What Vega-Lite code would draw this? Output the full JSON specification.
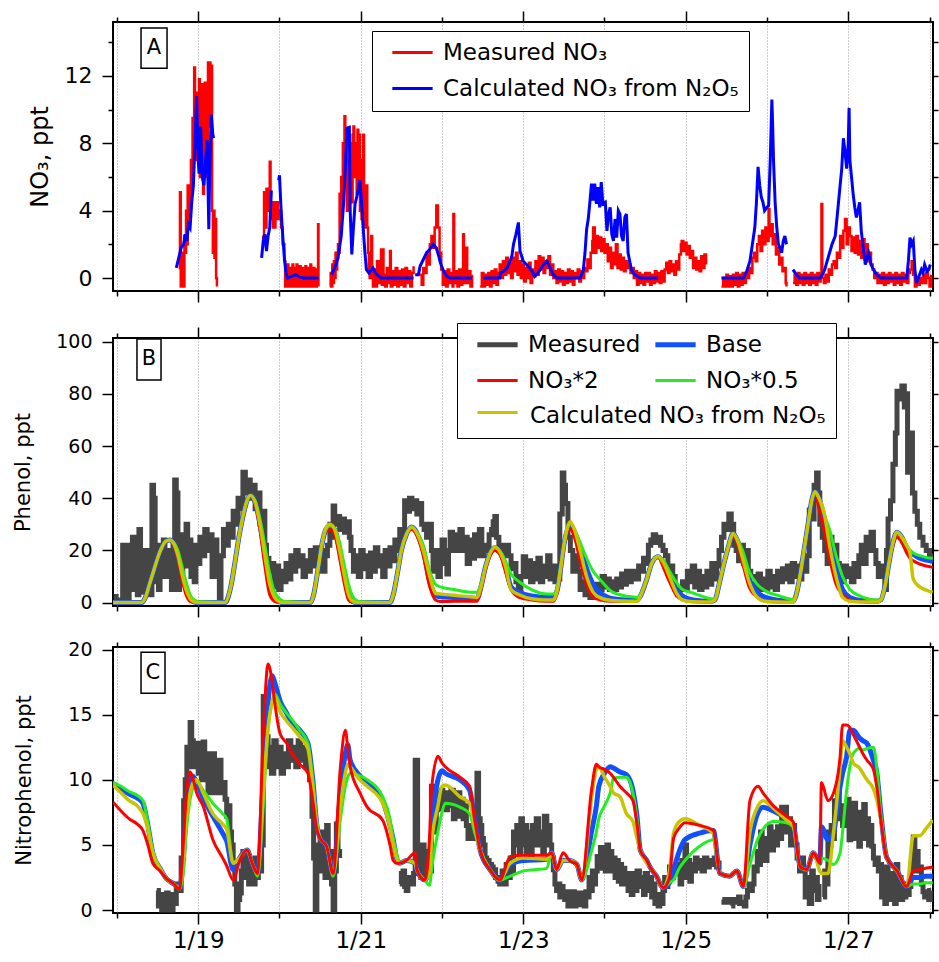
{
"$schema": "https://vega.github.io/schema/vega-lite/v6.json",
"padding": {"left": 11, "top": 9, "right": 1, "bottom": 5},
"spacing": 15,
"config": {
  "font": "DejaVu Sans",
  "view": {"stroke": "black", "strokeWidth": 2},
  "axis": {"labelColor": "black", "titleColor": "black", "tickColor": "black", "tickWidth": 1.5, "titleFontWeight": "normal", "domain": false, "grid": false}
},
"resolve": {"scale": {"color": "independent", "stroke": "independent"}, "legend": {"color": "independent", "stroke": "independent"}},
"datasets": {
"aRed": [
{"t":18.77,"v":0.5},{"t":18.775,"v":5.1},{"t":18.785,"v":-0.5},{"t":18.80,"v":-0.5},{"t":18.81,"v":1.5},{"t":18.82,"v":-0.5},{"t":18.83,"v":2.5},{"t":18.84,"v":1.5},{"t":18.85,"v":4},{"t":18.86,"v":2},{"t":18.87,"v":5.5},{"t":18.88,"v":3},{"t":18.89,"v":5.5},{"t":18.90,"v":4.5},{"t":18.91,"v":7},{"t":18.92,"v":5.5},{"t":18.93,"v":9.5},{"t":18.94,"v":7},{"t":18.95,"v":12.5},{"t":18.96,"v":8},{"t":18.97,"v":11},{"t":18.98,"v":7},{"t":18.99,"v":10},{"t":19.00,"v":9},{"t":19.01,"v":11.8},{"t":19.02,"v":6},{"t":19.03,"v":10.5},{"t":19.04,"v":8},{"t":19.05,"v":11.5},{"t":19.06,"v":5},{"t":19.07,"v":8},{"t":19.08,"v":11.6},{"t":19.09,"v":6},{"t":19.10,"v":10},{"t":19.11,"v":7},{"t":19.12,"v":12.8},{"t":19.13,"v":9},{"t":19.14,"v":12.8},{"t":19.15,"v":11},{"t":19.16,"v":12.6},{"t":19.17,"v":4},{"t":19.18,"v":1.5},{"t":19.19,"v":4},{"t":19.20,"v":1.2},{"t":19.21,"v":3.5},{"t":19.22,"v":0},{"t":19.23,"v":-0.5},{"t":19.24,"v":null},
{"t":19.79,"v":2.5},{"t":19.80,"v":2},{"t":19.81,"v":5.1},{"t":19.82,"v":3},{"t":19.84,"v":5.3},{"t":19.85,"v":4},{"t":19.86,"v":5},{"t":19.88,"v":6.9},{"t":19.89,"v":3.5},{"t":19.90,"v":4.5},{"t":19.92,"v":3},{"t":19.95,"v":4.5},{"t":19.98,"v":3.5},{"t":20.00,"v":4},{"t":20.02,"v":3},{"t":20.04,"v":2},{"t":20.06,"v":1},{"t":20.07,"v":-0.5},{"t":20.08,"v":0.5},{"t":20.09,"v":-0.5},{"t":20.10,"v":0.8},{"t":20.11,"v":-0.3},{"t":20.12,"v":0.6},{"t":20.13,"v":-0.5},{"t":20.14,"v":0.3},{"t":20.15,"v":-0.5},{"t":20.16,"v":0.8},{"t":20.17,"v":0},{"t":20.18,"v":-0.5},{"t":20.19,"v":0.6},{"t":20.20,"v":-0.3},{"t":20.21,"v":0.8},{"t":20.22,"v":-0.5},{"t":20.23,"v":0.4},{"t":20.24,"v":-0.5},{"t":20.25,"v":0.7},{"t":20.26,"v":-0.3},{"t":20.27,"v":0.5},{"t":20.28,"v":-0.5},{"t":20.29,"v":0.6},{"t":20.30,"v":0},{"t":20.31,"v":-0.5},{"t":20.32,"v":0.7},{"t":20.33,"v":-0.4},{"t":20.34,"v":0.6},{"t":20.35,"v":-0.5},{"t":20.36,"v":0.5},{"t":20.37,"v":-0.3},{"t":20.38,"v":0.8},{"t":20.39,"v":-0.5},{"t":20.40,"v":0.3},{"t":20.41,"v":-0.5},{"t":20.42,"v":0.6},{"t":20.43,"v":-0.2},{"t":20.44,"v":0.5},{"t":20.45,"v":-0.5},{"t":20.46,"v":0.4},{"t":20.47,"v":-0.4},{"t":20.475,"v":3.2},{"t":20.48,"v":-0.5},{"t":20.485,"v":null},
{"t":20.62,"v":-0.5},{"t":20.63,"v":0.3},{"t":20.64,"v":-0.5},{"t":20.65,"v":0.8},{"t":20.66,"v":-0.3},{"t":20.67,"v":1},{"t":20.68,"v":0},{"t":20.69,"v":1.5},{"t":20.70,"v":0.5},{"t":20.71,"v":1.2},{"t":20.72,"v":2},{"t":20.73,"v":1.5},{"t":20.74,"v":5},{"t":20.75,"v":3},{"t":20.76,"v":6},{"t":20.77,"v":4.5},{"t":20.78,"v":8},{"t":20.79,"v":6.5},{"t":20.80,"v":9.6},{"t":20.81,"v":7},{"t":20.82,"v":8},{"t":20.83,"v":4},{"t":20.84,"v":6},{"t":20.85,"v":5},{"t":20.86,"v":7},{"t":20.87,"v":5.5},{"t":20.88,"v":8},{"t":20.89,"v":4.5},{"t":20.90,"v":8.5},{"t":20.91,"v":9},{"t":20.92,"v":6},{"t":20.94,"v":8},{"t":20.95,"v":5},{"t":20.96,"v":8.8},{"t":20.97,"v":7},{"t":20.98,"v":8.5},{"t":20.99,"v":4},{"t":21.00,"v":6},{"t":21.01,"v":3.5},{"t":21.02,"v":7},{"t":21.03,"v":8.5},{"t":21.04,"v":5},{"t":21.05,"v":3},{"t":21.06,"v":4},{"t":21.07,"v":5.5},{"t":21.08,"v":3},{"t":21.09,"v":1.5},{"t":21.10,"v":0.5},{"t":21.11,"v":0},{"t":21.12,"v":1},{"t":21.13,"v":2.5},{"t":21.14,"v":0.3},{"t":21.15,"v":-0.5},{"t":21.17,"v":0.5},{"t":21.19,"v":-0.5},{"t":21.20,"v":1},{"t":21.22,"v":-0.3},{"t":21.24,"v":0.8},{"t":21.25,"v":1.7},{"t":21.26,"v":-0.4},{"t":21.27,"v":1.7},{"t":21.28,"v":0.2},{"t":21.30,"v":-0.5},{"t":21.32,"v":0.6},{"t":21.34,"v":-0.3},{"t":21.36,"v":1.6},{"t":21.37,"v":-0.5},{"t":21.39,"v":0.4},{"t":21.41,"v":-0.4},{"t":21.43,"v":0.6},{"t":21.45,"v":-0.5},{"t":21.47,"v":0.4},{"t":21.49,"v":-0.4},{"t":21.51,"v":0.5},{"t":21.53,"v":-0.5},{"t":21.55,"v":0.6},{"t":21.57,"v":-0.3},{"t":21.59,"v":0.4},{"t":21.61,"v":-0.5},{"t":21.63,"v":0.3},{"t":21.65,"v":0.7},{"t":21.66,"v":null},
{"t":21.73,"v":0.2},{"t":21.75,"v":-0.4},{"t":21.77,"v":0.6},{"t":21.79,"v":0.3},{"t":21.81,"v":1.5},{"t":21.83,"v":0.8},{"t":21.85,"v":2},{"t":21.87,"v":2.5},{"t":21.89,"v":1.8},{"t":21.91,"v":3},{"t":21.93,"v":4.3},{"t":21.95,"v":3},{"t":21.97,"v":1.5},{"t":21.99,"v":0.5},{"t":22.01,"v":-0.4},{"t":22.03,"v":0.4},{"t":22.05,"v":-0.5},{"t":22.07,"v":0.5},{"t":22.09,"v":-0.3},{"t":22.11,"v":0.3},{"t":22.13,"v":-0.5},{"t":22.14,"v":3.8},{"t":22.15,"v":-0.3},{"t":22.17,"v":0.4},{"t":22.19,"v":-0.5},{"t":22.21,"v":0.5},{"t":22.23,"v":-0.4},{"t":22.25,"v":0.3},{"t":22.26,"v":2.6},{"t":22.27,"v":-0.3},{"t":22.29,"v":0.4},{"t":22.30,"v":1.8},{"t":22.31,"v":-0.3},{"t":22.33,"v":0.4},{"t":22.35,"v":-0.5},{"t":22.37,"v":0.2},{"t":22.38,"v":null},
{"t":22.47,"v":-0.5},{"t":22.49,"v":0.3},{"t":22.51,"v":-0.5},{"t":22.53,"v":0.2},{"t":22.55,"v":-0.4},{"t":22.57,"v":0.3},{"t":22.59,"v":-0.5},{"t":22.61,"v":0.4},{"t":22.63,"v":-0.3},{"t":22.65,"v":0.5},{"t":22.67,"v":-0.4},{"t":22.69,"v":0.3},{"t":22.71,"v":0.8},{"t":22.73,"v":0},{"t":22.75,"v":1},{"t":22.77,"v":0.2},{"t":22.79,"v":1.2},{"t":22.81,"v":0.3},{"t":22.83,"v":0.9},{"t":22.85,"v":0},{"t":22.87,"v":1.2},{"t":22.89,"v":0.4},{"t":22.91,"v":1.5},{"t":22.93,"v":0.2},{"t":22.95,"v":1},{"t":22.97,"v":0},{"t":22.99,"v":0.8},{"t":23.01,"v":-0.2},{"t":23.03,"v":0.6},{"t":23.05,"v":0},{"t":23.07,"v":0.9},{"t":23.09,"v":-0.3},{"t":23.11,"v":0.5},{"t":23.13,"v":0.1},{"t":23.15,"v":1.0},{"t":23.17,"v":0.2},{"t":23.19,"v":1.3},{"t":23.21,"v":0.5},{"t":23.23,"v":1.2},{"t":23.25,"v":0.3},{"t":23.27,"v":1.0},{"t":23.29,"v":0.6},{"t":23.31,"v":1.3},{"t":23.33,"v":0.2},{"t":23.35,"v":0.8},{"t":23.37,"v":0},{"t":23.39,"v":0.4},{"t":23.41,"v":-0.3},{"t":23.43,"v":0.5},{"t":23.45,"v":-0.2},{"t":23.47,"v":0.4},{"t":23.49,"v":-0.4},{"t":23.51,"v":0.3},{"t":23.53,"v":-0.3},{"t":23.55,"v":0.5},{"t":23.57,"v":-0.2},{"t":23.59,"v":0.4},{"t":23.61,"v":-0.4},{"t":23.63,"v":0.3},{"t":23.65,"v":0},{"t":23.67,"v":0.5},{"t":23.69,"v":-0.2},{"t":23.71,"v":0.4},{"t":23.73,"v":0},{"t":23.75,"v":0.6},{"t":23.77,"v":0.4},{"t":23.79,"v":1.1},{"t":23.81,"v":0.6},{"t":23.83,"v":1.5},{"t":23.85,"v":2.2},{"t":23.86,"v":3.0},{"t":23.88,"v":1.5},{"t":23.90,"v":2.5},{"t":23.92,"v":1.8},{"t":23.94,"v":2.4},{"t":23.96,"v":1.6},{"t":23.98,"v":2.3},{"t":24.00,"v":1.5},{"t":24.02,"v":2.0},{"t":24.04,"v":1.0},{"t":24.06,"v":1.8},{"t":24.08,"v":0.6},{"t":24.10,"v":1.5},{"t":24.12,"v":0.8},{"t":24.14,"v":2.0},{"t":24.16,"v":0.6},{"t":24.18,"v":1.4},{"t":24.20,"v":0.5},{"t":24.22,"v":1.2},{"t":24.24,"v":0.4},{"t":24.26,"v":1.0},{"t":24.28,"v":0.6},{"t":24.30,"v":0.8},{"t":24.32,"v":0.3},{"t":24.34,"v":0.6},{"t":24.36,"v":0},{"t":24.38,"v":0.4},{"t":24.40,"v":-0.4},{"t":24.42,"v":0.3},{"t":24.44,"v":-0.3},{"t":24.46,"v":0.2},{"t":24.48,"v":-0.4},{"t":24.50,"v":0.3},{"t":24.52,"v":-0.2},{"t":24.54,"v":0.3},{"t":24.56,"v":-0.4},{"t":24.58,"v":0.2},{"t":24.60,"v":-0.3},{"t":24.62,"v":0.4},{"t":24.64,"v":-0.2},{"t":24.66,"v":0.3},{"t":24.68,"v":-0.3},{"t":24.70,"v":0.4},{"t":24.72,"v":-0.2},{"t":24.74,"v":0.5},{"t":24.76,"v":0.9},{"t":24.78,"v":0.3},{"t":24.80,"v":1.0},{"t":24.82,"v":0.4},{"t":24.84,"v":0.8},{"t":24.86,"v":0.2},{"t":24.88,"v":1.0},{"t":24.90,"v":0.5},{"t":24.92,"v":1.4},{"t":24.94,"v":2.0},{"t":24.95,"v":2.2},{"t":24.97,"v":1.6},{"t":24.99,"v":2.1},{"t":25.01,"v":1.4},{"t":25.03,"v":1.9},{"t":25.05,"v":1.2},{"t":25.07,"v":1.6},{"t":25.09,"v":0.6},{"t":25.11,"v":1.2},{"t":25.13,"v":0.5},{"t":25.15,"v":1.0},{"t":25.17,"v":0.4},{"t":25.19,"v":1.3},{"t":25.21,"v":0.6},{"t":25.23,"v":1.4},{"t":25.25,"v":0.8},{"t":25.27,"v":null},
{"t":25.44,"v":-0.5},{"t":25.46,"v":0},{"t":25.48,"v":-0.5},{"t":25.50,"v":0.2},{"t":25.52,"v":-0.5},{"t":25.54,"v":0.1},{"t":25.56,"v":-0.5},{"t":25.58,"v":0.2},{"t":25.60,"v":-0.4},{"t":25.62,"v":0.3},{"t":25.64,"v":-0.5},{"t":25.66,"v":0.2},{"t":25.68,"v":-0.4},{"t":25.70,"v":0.3},{"t":25.72,"v":-0.3},{"t":25.74,"v":0.3},{"t":25.76,"v":0},{"t":25.78,"v":0.6},{"t":25.80,"v":0.3},{"t":25.82,"v":1.2},{"t":25.84,"v":1.5},{"t":25.86,"v":1.0},{"t":25.88,"v":2.0},{"t":25.90,"v":2.5},{"t":25.92,"v":1.6},{"t":25.94,"v":2.8},{"t":25.96,"v":2.0},{"t":25.98,"v":3.0},{"t":26.00,"v":2.2},{"t":26.02,"v":4.1},{"t":26.03,"v":2.5},{"t":26.05,"v":3.2},{"t":26.07,"v":2.0},{"t":26.09,"v":2.6},{"t":26.11,"v":1.4},{"t":26.13,"v":1.8},{"t":26.15,"v":0.8},{"t":26.17,"v":1.2},{"t":26.19,"v":0.4},{"t":26.21,"v":0.6},{"t":26.23,"v":-0.3},{"t":26.24,"v":-0.5},{"t":26.25,"v":null},
{"t":26.32,"v":-0.3},{"t":26.34,"v":0.2},{"t":26.36,"v":-0.4},{"t":26.38,"v":0.3},{"t":26.40,"v":-0.3},{"t":26.42,"v":0.2},{"t":26.44,"v":-0.4},{"t":26.46,"v":0.3},{"t":26.48,"v":-0.3},{"t":26.50,"v":0.2},{"t":26.52,"v":-0.4},{"t":26.54,"v":0.3},{"t":26.56,"v":-0.3},{"t":26.58,"v":0.2},{"t":26.60,"v":-0.4},{"t":26.62,"v":0.3},{"t":26.64,"v":-0.2},{"t":26.66,"v":0},{"t":26.67,"v":4.4},{"t":26.68,"v":0},{"t":26.70,"v":-0.3},{"t":26.72,"v":0.2},{"t":26.74,"v":-0.2},{"t":26.76,"v":0.5},{"t":26.78,"v":0.2},{"t":26.80,"v":0.8},{"t":26.82,"v":1.0},{"t":26.84,"v":0.6},{"t":26.86,"v":1.5},{"t":26.88,"v":1.2},{"t":26.90,"v":2.5},{"t":26.92,"v":1.8},{"t":26.94,"v":2.8},{"t":26.96,"v":3.5},{"t":26.98,"v":2.0},{"t":27.00,"v":3.0},{"t":27.02,"v":2.5},{"t":27.04,"v":1.6},{"t":27.06,"v":2.4},{"t":27.08,"v":1.5},{"t":27.10,"v":2.5},{"t":27.12,"v":1.4},{"t":27.14,"v":2.2},{"t":27.16,"v":1.2},{"t":27.18,"v":2.3},{"t":27.20,"v":1.4},{"t":27.22,"v":2.0},{"t":27.24,"v":1.0},{"t":27.26,"v":1.5},{"t":27.28,"v":0.8},{"t":27.30,"v":0.5},{"t":27.32,"v":0},{"t":27.34,"v":0.3},{"t":27.36,"v":-0.3},{"t":27.38,"v":0.2},{"t":27.40,"v":-0.3},{"t":27.42,"v":0.3},{"t":27.44,"v":-0.4},{"t":27.46,"v":0.2},{"t":27.48,"v":-0.3},{"t":27.50,"v":0.3},{"t":27.52,"v":-0.2},{"t":27.54,"v":0.2},{"t":27.56,"v":-0.4},{"t":27.58,"v":0.3},{"t":27.60,"v":-0.3},{"t":27.62,"v":0.2},{"t":27.64,"v":-0.4},{"t":27.66,"v":0.3},{"t":27.68,"v":-0.2},{"t":27.70,"v":0.2},{"t":27.72,"v":-0.3},{"t":27.74,"v":0.3},{"t":27.76,"v":0.5},{"t":27.78,"v":1.0},{"t":27.80,"v":0.2},{"t":27.82,"v":-0.5},{"t":27.84,"v":0},{"t":27.86,"v":-0.4},{"t":27.88,"v":0},{"t":27.90,"v":-0.3},{"t":27.92,"v":0.2},{"t":27.94,"v":-0.3},{"t":27.96,"v":0.3},{"t":27.98,"v":0},{"t":28.00,"v":-0.5},{"t":28.02,"v":0.2}
],
"aBlue": [
{"t":18.73,"v":0.6},{"t":18.76,"v":1.2},{"t":18.79,"v":1.8},{"t":18.82,"v":2.0},{"t":18.84,"v":2.6},{"t":18.86,"v":2.2},{"t":18.88,"v":3.2},{"t":18.90,"v":3.0},{"t":18.92,"v":4.5},{"t":18.94,"v":5.5},{"t":18.96,"v":8},{"t":18.98,"v":10.8},{"t":19.00,"v":7},{"t":19.01,"v":6.2},{"t":19.03,"v":9},{"t":19.05,"v":6},{"t":19.07,"v":5.5},{"t":19.09,"v":7},{"t":19.11,"v":8.2},{"t":19.13,"v":2.9},{"t":19.14,"v":6},{"t":19.16,"v":9.7},{"t":19.18,"v":8.5},{"t":19.19,"v":8.3},{"t":19.20,"v":null},
{"t":19.78,"v":1.2},{"t":19.80,"v":2.2},{"t":19.82,"v":2.6},{"t":19.84,"v":1.6},{"t":19.86,"v":2.5},{"t":19.88,"v":3.0},{"t":19.90,"v":5.2},{"t":19.91,"v":null},{"t":19.99,"v":5.8},{"t":20.00,"v":6.1},{"t":20.02,"v":4.0},{"t":20.04,"v":2.5},{"t":20.06,"v":1.2},{"t":20.08,"v":0.3},{"t":20.10,"v":0},{"t":20.15,"v":0.1},{"t":20.20,"v":0.2},{"t":20.25,"v":0.05},{"t":20.30,"v":0},{"t":20.48,"v":0},{"t":20.49,"v":null},
{"t":20.64,"v":0.2},{"t":20.68,"v":0.6},{"t":20.72,"v":1.2},{"t":20.76,"v":2.5},{"t":20.79,"v":4.5},{"t":20.81,"v":6.5},{"t":20.83,"v":8.9},{"t":20.86,"v":8.95},{"t":20.87,"v":4},{"t":20.89,"v":1.4},{"t":20.91,"v":3},{"t":20.93,"v":4.4},{"t":20.96,"v":5},{"t":20.99,"v":5.8},{"t":21.01,"v":4.5},{"t":21.03,"v":3},{"t":21.05,"v":1.6},{"t":21.07,"v":0.5},{"t":21.10,"v":0.3},{"t":21.13,"v":0.5},{"t":21.15,"v":0.6},{"t":21.18,"v":0.3},{"t":21.20,"v":0.2},{"t":21.25,"v":0},{"t":21.65,"v":0},{"t":21.66,"v":null},
{"t":21.67,"v":0.2},{"t":21.71,"v":0.2},{"t":21.73,"v":0.7},{"t":21.77,"v":1.1},{"t":21.81,"v":1.5},{"t":21.85,"v":1.7},{"t":21.89,"v":2.0},{"t":21.93,"v":1.8},{"t":21.96,"v":1.3},{"t":21.98,"v":0.9},{"t":22.02,"v":0.4},{"t":22.06,"v":0.1},{"t":22.10,"v":0},{"t":22.37,"v":0},{"t":22.38,"v":null},
{"t":22.51,"v":0},{"t":22.71,"v":0},{"t":22.72,"v":0.3},{"t":22.76,"v":0.4},{"t":22.80,"v":0.6},{"t":22.83,"v":0.9},{"t":22.86,"v":1.3},{"t":22.88,"v":2.0},{"t":22.91,"v":2.6},{"t":22.94,"v":3.3},{"t":22.96,"v":1.6},{"t":23.00,"v":1.0},{"t":23.04,"v":0.8},{"t":23.08,"v":0.6},{"t":23.12,"v":0.3},{"t":23.14,"v":0.1},{"t":23.18,"v":0.3},{"t":23.21,"v":0.5},{"t":23.25,"v":0.8},{"t":23.29,"v":1.0},{"t":23.33,"v":0.6},{"t":23.37,"v":0.2},{"t":23.41,"v":0},{"t":23.70,"v":0},{"t":23.74,"v":0.5},{"t":23.76,"v":1.5},{"t":23.78,"v":2.9},{"t":23.80,"v":3.5},{"t":23.82,"v":4.5},{"t":23.84,"v":5.6},{"t":23.86,"v":4.6},{"t":23.88,"v":5.6},{"t":23.90,"v":4.4},{"t":23.92,"v":5.4},{"t":23.94,"v":4.2},{"t":23.96,"v":5.7},{"t":23.98,"v":4.4},{"t":24.01,"v":4.5},{"t":24.03,"v":2.8},{"t":24.05,"v":3.8},{"t":24.07,"v":4.2},{"t":24.09,"v":2.6},{"t":24.11,"v":2.2},{"t":24.13,"v":3.5},{"t":24.15,"v":2.4},{"t":24.17,"v":4.0},{"t":24.19,"v":3.8},{"t":24.21,"v":2.5},{"t":24.23,"v":2.2},{"t":24.25,"v":3.6},{"t":24.27,"v":3.8},{"t":24.29,"v":1.5},{"t":24.31,"v":1.0},{"t":24.33,"v":0.5},{"t":24.37,"v":0.2},{"t":24.44,"v":0},{"t":24.66,"v":0},{"t":24.67,"v":null},
{"t":25.44,"v":0},{"t":25.71,"v":0},{"t":25.75,"v":0.4},{"t":25.79,"v":1.0},{"t":25.82,"v":2},{"t":25.85,"v":3},{"t":25.87,"v":4.5},{"t":25.89,"v":6.6},{"t":25.91,"v":5.5},{"t":25.93,"v":4.8},{"t":25.95,"v":4.5},{"t":25.97,"v":4.0},{"t":26.00,"v":4.2},{"t":26.02,"v":4.3},{"t":26.04,"v":7},{"t":26.06,"v":10.6},{"t":26.07,"v":9},{"t":26.08,"v":7},{"t":26.10,"v":4.5},{"t":26.12,"v":3},{"t":26.14,"v":2.0},{"t":26.16,"v":1.8},{"t":26.18,"v":1.5},{"t":26.20,"v":2.2},{"t":26.22,"v":2.5},{"t":26.24,"v":2.0},{"t":26.25,"v":null},
{"t":26.32,"v":0.5},{"t":26.36,"v":0.2},{"t":26.40,"v":0},{"t":26.65,"v":0},{"t":26.68,"v":0.2},{"t":26.71,"v":0.5},{"t":26.74,"v":1.0},{"t":26.77,"v":1.5},{"t":26.80,"v":2.0},{"t":26.84,"v":2.5},{"t":26.86,"v":3.5},{"t":26.88,"v":4.5},{"t":26.90,"v":5.5},{"t":26.92,"v":6.5},{"t":26.94,"v":8.3},{"t":26.96,"v":7.5},{"t":26.98,"v":6.5},{"t":27.00,"v":8},{"t":27.01,"v":10.1},{"t":27.02,"v":7},{"t":27.04,"v":6},{"t":27.06,"v":5},{"t":27.08,"v":4.2},{"t":27.10,"v":3.6},{"t":27.12,"v":4.0},{"t":27.14,"v":4.5},{"t":27.16,"v":2.8},{"t":27.18,"v":2.0},{"t":27.21,"v":0.8},{"t":27.23,"v":1.2},{"t":27.25,"v":1.5},{"t":27.28,"v":0.8},{"t":27.31,"v":0.5},{"t":27.35,"v":0.2},{"t":27.40,"v":0},{"t":27.72,"v":0},{"t":27.74,"v":1.0},{"t":27.76,"v":2.4},{"t":27.78,"v":2.0},{"t":27.80,"v":2.2},{"t":27.82,"v":0.5},{"t":27.84,"v":-0.3},{"t":27.87,"v":0.1},{"t":27.90,"v":0.5},{"t":27.92,"v":0.3},{"t":27.94,"v":0.8},{"t":27.97,"v":0.4},{"t":27.99,"v":0.5},{"t":28.01,"v":0.8}
],
"bGray": [
{"t":17.96,"v":2.3},{"t":17.99,"v":0.5},{"t":18.02,"v":1},{"t":18.05,"v":0},{"t":18.07,"v":22},{"t":18.09,"v":3},{"t":18.11,"v":20},{"t":18.13,"v":2},{"t":18.15,"v":22},{"t":18.17,"v":8},{"t":18.19,"v":25},{"t":18.21,"v":5},{"t":18.23,"v":18},{"t":18.25,"v":3},{"t":18.27,"v":28},{"t":18.29,"v":10},{"t":18.31,"v":16},{"t":18.33,"v":4},{"t":18.35,"v":20},{"t":18.37,"v":6},{"t":18.39,"v":14},{"t":18.41,"v":3},{"t":18.43,"v":45},{"t":18.45,"v":40},{"t":18.47,"v":8},{"t":18.49,"v":20},{"t":18.51,"v":5},{"t":18.53,"v":22},{"t":18.55,"v":10},{"t":18.57,"v":24},{"t":18.59,"v":14},{"t":18.61,"v":20},{"t":18.63,"v":10},{"t":18.65,"v":18},{"t":18.67,"v":5},{"t":18.69,"v":22},{"t":18.71,"v":47},{"t":18.73,"v":42},{"t":18.75,"v":5},{"t":18.77,"v":20},{"t":18.79,"v":12},{"t":18.81,"v":26},{"t":18.83,"v":16},{"t":18.85,"v":30},{"t":18.87,"v":14},{"t":18.89,"v":24},{"t":18.91,"v":10},{"t":18.93,"v":20},{"t":18.95,"v":8},{"t":18.97,"v":22},{"t":18.99,"v":15},{"t":19.02,"v":25},{"t":19.05,"v":18},{"t":19.08,"v":28},{"t":19.11,"v":20},{"t":19.14,"v":26},{"t":19.17,"v":10},{"t":19.20,"v":24},{"t":19.23,"v":12},{"t":19.26,"v":0},{"t":19.28,"v":18},{"t":19.31,"v":28},{"t":19.34,"v":22},{"t":19.37,"v":30},{"t":19.40,"v":25},{"t":19.43,"v":35},{"t":19.46,"v":30},{"t":19.49,"v":40},{"t":19.52,"v":36},{"t":19.55,"v":50},{"t":19.58,"v":42},{"t":19.61,"v":47},{"t":19.64,"v":40},{"t":19.67,"v":45},{"t":19.70,"v":36},{"t":19.73,"v":42},{"t":19.76,"v":30},{"t":19.79,"v":35},{"t":19.82,"v":22},{"t":19.84,"v":17},{"t":19.87,"v":12},{"t":19.90,"v":15},{"t":19.93,"v":6},{"t":19.96,"v":14},{"t":19.99,"v":5},{"t":20.02,"v":12},{"t":20.05,"v":8},{"t":20.08,"v":15},{"t":20.11,"v":9},{"t":20.14,"v":18},{"t":20.17,"v":12},{"t":20.20,"v":20},{"t":20.23,"v":14},{"t":20.26,"v":18},{"t":20.29,"v":10},{"t":20.32,"v":16},{"t":20.35,"v":12},{"t":20.38,"v":20},{"t":20.41,"v":14},{"t":20.44,"v":21},{"t":20.47,"v":15},{"t":20.50,"v":20},{"t":20.53,"v":12},{"t":20.56,"v":18},{"t":20.59,"v":22},{"t":20.62,"v":30},{"t":20.64,"v":25},{"t":20.66,"v":37},{"t":20.68,"v":30},{"t":20.71,"v":33},{"t":20.74,"v":28},{"t":20.77,"v":32},{"t":20.80,"v":27},{"t":20.83,"v":31},{"t":20.86,"v":25},{"t":20.88,"v":20},{"t":20.91,"v":12},{"t":20.94,"v":18},{"t":20.97,"v":10},{"t":21.00,"v":20},{"t":21.03,"v":13},{"t":21.06,"v":18},{"t":21.09,"v":10},{"t":21.12,"v":19},{"t":21.15,"v":12},{"t":21.18,"v":21},{"t":21.21,"v":14},{"t":21.24,"v":18},{"t":21.27,"v":10},{"t":21.30,"v":20},{"t":21.33,"v":14},{"t":21.36,"v":21},{"t":21.39,"v":16},{"t":21.42,"v":24},{"t":21.45,"v":20},{"t":21.48,"v":28},{"t":21.51,"v":25},{"t":21.54,"v":39},{"t":21.57,"v":35},{"t":21.60,"v":40},{"t":21.63,"v":36},{"t":21.66,"v":39},{"t":21.69,"v":34},{"t":21.72,"v":38},{"t":21.75,"v":30},{"t":21.78,"v":28},{"t":21.81,"v":25},{"t":21.84,"v":30},{"t":21.87,"v":20},{"t":21.89,"v":12},{"t":21.92,"v":20},{"t":21.95,"v":10},{"t":21.98,"v":18},{"t":22.00,"v":24},{"t":22.03,"v":15},{"t":22.06,"v":11},{"t":22.08,"v":20},{"t":22.10,"v":27},{"t":22.13,"v":20},{"t":22.16,"v":26},{"t":22.19,"v":20},{"t":22.22,"v":28},{"t":22.25,"v":20},{"t":22.28,"v":25},{"t":22.31,"v":15},{"t":22.34,"v":24},{"t":22.37,"v":17},{"t":22.40,"v":26},{"t":22.43,"v":18},{"t":22.46,"v":28},{"t":22.49,"v":18},{"t":22.52,"v":22},{"t":22.55,"v":20},{"t":22.58,"v":26},{"t":22.61,"v":28},{"t":22.63,"v":31},{"t":22.65,"v":33},{"t":22.67,"v":25},{"t":22.70,"v":20},{"t":22.73,"v":22},{"t":22.76,"v":18},{"t":22.79,"v":22},{"t":22.82,"v":18},{"t":22.85,"v":13},{"t":22.88,"v":15},{"t":22.91,"v":8},{"t":22.94,"v":5},{"t":22.97,"v":10},{"t":23.00,"v":17.6},{"t":23.03,"v":10},{"t":23.06,"v":16},{"t":23.09,"v":8},{"t":23.12,"v":15},{"t":23.15,"v":9},{"t":23.18,"v":17},{"t":23.21,"v":8},{"t":23.24,"v":14},{"t":23.27,"v":10},{"t":23.30,"v":18},{"t":23.33,"v":9},{"t":23.36,"v":14},{"t":23.39,"v":8},{"t":23.42,"v":9},{"t":23.45,"v":34},{"t":23.48,"v":49.7},{"t":23.50,"v":45},{"t":23.52,"v":38},{"t":23.55,"v":25},{"t":23.58,"v":20},{"t":23.61,"v":12},{"t":23.64,"v":18},{"t":23.67,"v":12},{"t":23.70,"v":5},{"t":23.73,"v":8},{"t":23.76,"v":3},{"t":23.79,"v":6},{"t":23.82,"v":2},{"t":23.85,"v":5},{"t":23.88,"v":3},{"t":23.91,"v":7},{"t":23.94,"v":5},{"t":23.97,"v":10},{"t":24.00,"v":6},{"t":24.03,"v":9},{"t":24.06,"v":5},{"t":24.09,"v":8},{"t":24.12,"v":5},{"t":24.15,"v":9},{"t":24.18,"v":6},{"t":24.21,"v":11},{"t":24.24,"v":7},{"t":24.27,"v":12},{"t":24.30,"v":8},{"t":24.33,"v":10},{"t":24.36,"v":12},{"t":24.39,"v":9},{"t":24.42,"v":14},{"t":24.45,"v":12},{"t":24.48,"v":17},{"t":24.51,"v":15},{"t":24.54,"v":22},{"t":24.57,"v":24},{"t":24.60,"v":26},{"t":24.63,"v":23},{"t":24.66,"v":25},{"t":24.69,"v":22},{"t":24.72,"v":20},{"t":24.75,"v":18},{"t":24.78,"v":12},{"t":24.81,"v":14},{"t":24.84,"v":10},{"t":24.87,"v":5},{"t":24.90,"v":3},{"t":24.93,"v":5},{"t":24.96,"v":8},{"t":24.99,"v":5},{"t":25.02,"v":12},{"t":25.05,"v":8},{"t":25.08,"v":14},{"t":25.11,"v":6},{"t":25.14,"v":12},{"t":25.17,"v":5},{"t":25.20,"v":10},{"t":25.23,"v":6},{"t":25.26,"v":12},{"t":25.29,"v":7},{"t":25.32,"v":15},{"t":25.35,"v":9},{"t":25.38,"v":14},{"t":25.41,"v":20},{"t":25.44,"v":25},{"t":25.47,"v":30},{"t":25.50,"v":28},{"t":25.53,"v":34},{"t":25.56,"v":30},{"t":25.59,"v":22},{"t":25.62,"v":20},{"t":25.65,"v":16},{"t":25.68,"v":22},{"t":25.71,"v":15},{"t":25.74,"v":20},{"t":25.77,"v":12},{"t":25.80,"v":10},{"t":25.83,"v":10},{"t":25.86,"v":6},{"t":25.89,"v":11},{"t":25.92,"v":5},{"t":25.95,"v":9},{"t":25.98,"v":5},{"t":26.01,"v":12},{"t":26.04,"v":6},{"t":26.07,"v":10},{"t":26.10,"v":5},{"t":26.13,"v":12},{"t":26.16,"v":8},{"t":26.19,"v":13},{"t":26.22,"v":9},{"t":26.25,"v":14},{"t":26.28,"v":8},{"t":26.31,"v":15},{"t":26.34,"v":10},{"t":26.37,"v":14},{"t":26.40,"v":9},{"t":26.43,"v":15},{"t":26.46,"v":12},{"t":26.49,"v":18},{"t":26.52,"v":35.5},{"t":26.55,"v":32},{"t":26.58,"v":45},{"t":26.61,"v":49.7},{"t":26.63,"v":42},{"t":26.65,"v":30},{"t":26.68,"v":25},{"t":26.71,"v":20},{"t":26.74,"v":15},{"t":26.77,"v":25},{"t":26.80,"v":18},{"t":26.83,"v":22},{"t":26.86,"v":15},{"t":26.89,"v":12},{"t":26.92,"v":8},{"t":26.95,"v":14},{"t":26.98,"v":10},{"t":27.01,"v":13},{"t":27.04,"v":8},{"t":27.07,"v":15},{"t":27.10,"v":10},{"t":27.13,"v":18},{"t":27.16,"v":22},{"t":27.19,"v":15},{"t":27.22,"v":25},{"t":27.25,"v":20},{"t":27.28,"v":27},{"t":27.31,"v":20},{"t":27.34,"v":15},{"t":27.37,"v":10},{"t":27.40,"v":14},{"t":27.43,"v":11},{"t":27.45,"v":5},{"t":27.47,"v":20},{"t":27.49,"v":32},{"t":27.52,"v":39},{"t":27.55,"v":53},{"t":27.58,"v":65},{"t":27.60,"v":81},{"t":27.63,"v":78},{"t":27.66,"v":83},{"t":27.69,"v":75},{"t":27.71,"v":80},{"t":27.73,"v":50},{"t":27.76,"v":65},{"t":27.79,"v":42},{"t":27.82,"v":35},{"t":27.85,"v":30},{"t":27.88,"v":25},{"t":27.92,"v":22},{"t":27.96,"v":20},{"t":28.00,"v":18},{"t":28.03,"v":16}
],
"bMod": [
{"t":17.95,"r":0,"b":0,"g":0,"y":0},{"t":18.30,"r":0,"b":0,"g":0,"y":0},{"t":18.35,"r":2,"b":2,"g":2,"y":2},{"t":18.40,"r":7,"b":7,"g":7,"y":7},{"t":18.45,"r":12,"b":12,"g":12,"y":12},{"t":18.50,"r":17,"b":17,"g":17,"y":17},{"t":18.55,"r":21,"b":21,"g":21,"y":21},{"t":18.60,"r":23.5,"b":23.5,"g":23.5,"y":23.5},{"t":18.65,"r":24,"b":24,"g":24,"y":24},{"t":18.70,"r":22,"b":22.5,"g":23,"y":22.5},{"t":18.75,"r":17,"b":18,"g":20,"y":18},{"t":18.80,"r":9,"b":11,"g":14,"y":11},{"t":18.85,"r":3,"b":5,"g":8,"y":5},{"t":18.90,"r":0.5,"b":1.5,"g":3,"y":1.5},{"t":18.95,"r":0.1,"b":0.3,"g":1,"y":0.3},{"t":19.00,"r":0,"b":0,"g":0.3,"y":0},{"t":19.33,"r":0,"b":0,"g":0,"y":0},{"t":19.40,"r":6,"b":6,"g":6,"y":6},{"t":19.45,"r":15,"b":15,"g":15,"y":15},{"t":19.50,"r":25,"b":25,"g":25,"y":25},{"t":19.55,"r":33,"b":33,"g":33,"y":33},{"t":19.60,"r":39,"b":39,"g":39,"y":39},{"t":19.64,"r":41,"b":41,"g":41,"y":41},{"t":19.70,"r":38,"b":38.5,"g":39,"y":38.5},{"t":19.76,"r":28,"b":30,"g":32,"y":30},{"t":19.82,"r":14,"b":18,"g":22,"y":18},{"t":19.88,"r":3,"b":7,"g":11,"y":7},{"t":19.94,"r":0.5,"b":2,"g":4,"y":2},{"t":20.00,"r":0,"b":0.3,"g":1.5,"y":0.3},{"t":20.05,"r":0,"b":0,"g":0.5,"y":0},{"t":20.38,"r":0,"b":0,"g":0,"y":0},{"t":20.42,"r":3,"b":3,"g":3,"y":3},{"t":20.47,"r":12,"b":12,"g":12,"y":12},{"t":20.52,"r":22,"b":22,"g":22,"y":22},{"t":20.57,"r":27,"b":28,"g":28,"y":28.5},{"t":20.62,"r":28,"b":29.5,"g":29.5,"y":30},{"t":20.68,"r":26,"b":28,"g":28.5,"y":28},{"t":20.74,"r":17,"b":20,"g":23,"y":20},{"t":20.80,"r":7,"b":10,"g":14,"y":10},{"t":20.85,"r":1,"b":3,"g":7,"y":3},{"t":20.90,"r":0,"b":0.5,"g":2.5,"y":0.5},{"t":20.95,"r":0,"b":0,"g":0.8,"y":0},{"t":21.00,"r":0,"b":0,"g":0.3,"y":0},{"t":21.36,"r":0,"b":0,"g":0,"y":0},{"t":21.40,"r":3,"b":3,"g":3,"y":3},{"t":21.45,"r":11,"b":11,"g":11,"y":11},{"t":21.50,"r":20,"b":20,"g":20,"y":20},{"t":21.56,"r":26,"b":26,"g":26,"y":26},{"t":21.63,"r":28,"b":29,"g":29,"y":29},{"t":21.70,"r":25,"b":26,"g":26.5,"y":26},{"t":21.77,"r":18,"b":20,"g":22,"y":20},{"t":21.85,"r":6,"b":8,"g":12,"y":10},{"t":21.92,"r":1,"b":3,"g":7,"y":3.5},{"t":21.98,"r":0.4,"b":2.2,"g":6,"y":3.3},{"t":22.15,"r":0.5,"b":2,"g":5,"y":2.8},{"t":22.35,"r":0.5,"b":1.7,"g":4,"y":2.2},{"t":22.43,"r":0.5,"b":1.5,"g":4,"y":2},{"t":22.48,"r":5,"b":6,"g":7,"y":6},{"t":22.53,"r":12,"b":13,"g":13,"y":13},{"t":22.58,"r":17,"b":18,"g":18,"y":18},{"t":22.65,"r":20,"b":21,"g":21,"y":21.3},{"t":22.72,"r":18,"b":19,"g":19.5,"y":19},{"t":22.78,"r":12,"b":14,"g":16,"y":14},{"t":22.85,"r":5,"b":6,"g":11,"y":5},{"t":22.95,"r":2,"b":4,"g":8,"y":3},{"t":23.10,"r":1,"b":2.5,"g":5,"y":1.5},{"t":23.30,"r":0.5,"b":2,"g":3.3,"y":1},{"t":23.37,"r":0.5,"b":2,"g":3.3,"y":1},{"t":23.42,"r":4,"b":5,"g":6,"y":5},{"t":23.46,"r":12,"b":13,"g":14,"y":13},{"t":23.50,"r":21,"b":22,"g":22,"y":22},{"t":23.54,"r":27,"b":27.5,"g":28,"y":28.5},{"t":23.58,"r":28,"b":29,"g":30,"y":31},{"t":23.63,"r":25,"b":27,"g":28,"y":28},{"t":23.70,"r":16,"b":21,"g":23,"y":20},{"t":23.78,"r":7,"b":13,"g":17,"y":10},{"t":23.86,"r":2,"b":7,"g":12,"y":4},{"t":23.95,"r":1,"b":3.7,"g":8.7,"y":1.8},{"t":24.10,"r":0.5,"b":1.5,"g":4,"y":0.8},{"t":24.30,"r":0.5,"b":1,"g":2.3,"y":0.5},{"t":24.40,"r":0.5,"b":1,"g":2,"y":0.5},{"t":24.45,"r":3,"b":3,"g":3.5,"y":3},{"t":24.52,"r":9,"b":9,"g":9,"y":9},{"t":24.58,"r":15,"b":15,"g":15,"y":15},{"t":24.66,"r":17.5,"b":17.6,"g":17.8,"y":17.6},{"t":24.73,"r":13,"b":15,"g":16,"y":15},{"t":24.80,"r":8,"b":10,"g":12,"y":10},{"t":24.88,"r":3,"b":5,"g":8,"y":4},{"t":24.96,"r":1,"b":2.5,"g":5,"y":1},{"t":25.09,"r":0.3,"b":1,"g":3.7,"y":0.3},{"t":25.30,"r":0.2,"b":0.5,"g":1.5,"y":0.2},{"t":25.36,"r":1,"b":1,"g":1.3,"y":1},{"t":25.41,"r":7,"b":7,"g":7,"y":7},{"t":25.47,"r":15,"b":15,"g":15,"y":15},{"t":25.53,"r":22,"b":22,"g":22,"y":22},{"t":25.58,"r":26,"b":26.5,"g":26.5,"y":26.5},{"t":25.64,"r":22,"b":23.5,"g":24,"y":23.5},{"t":25.70,"r":15,"b":18,"g":20,"y":17},{"t":25.78,"r":6,"b":9,"g":12,"y":8},{"t":25.88,"r":2,"b":4,"g":7,"y":2},{"t":25.98,"r":0.5,"b":2,"g":4.5,"y":0.5},{"t":26.16,"r":0.2,"b":0.8,"g":2.5,"y":0.2},{"t":26.32,"r":0.1,"b":0.5,"g":1.2,"y":0.1},{"t":26.36,"r":3,"b":3,"g":3,"y":3},{"t":26.41,"r":11,"b":11,"g":11,"y":11},{"t":26.46,"r":21,"b":21,"g":21,"y":21},{"t":26.51,"r":31,"b":31,"g":31,"y":31},{"t":26.55,"r":39,"b":39,"g":39,"y":39},{"t":26.59,"r":42,"b":42.5,"g":42.5,"y":42.5},{"t":26.64,"r":36,"b":40,"g":40,"y":40},{"t":26.70,"r":28,"b":33,"g":34,"y":35},{"t":26.77,"r":17,"b":24,"g":28,"y":22},{"t":26.85,"r":7,"b":13,"g":18,"y":10},{"t":26.93,"r":3,"b":5,"g":10,"y":2},{"t":27.02,"r":1,"b":2,"g":5,"y":0.5},{"t":27.15,"r":0.3,"b":0.8,"g":2.5,"y":0.2},{"t":27.35,"r":0.2,"b":0.5,"g":1,"y":0.2},{"t":27.40,"r":1,"b":1,"g":1,"y":1},{"t":27.45,"r":6,"b":6,"g":6,"y":6},{"t":27.50,"r":15,"b":15,"g":15,"y":15},{"t":27.55,"r":22,"b":23,"g":23,"y":23},{"t":27.60,"r":25,"b":27,"g":27,"y":27},{"t":27.66,"r":23,"b":25,"g":25,"y":25},{"t":27.72,"r":19,"b":21,"g":21.5,"y":22},{"t":27.76,"r":17,"b":19.5,"g":20,"y":19},{"t":27.80,"r":16,"b":18.5,"g":19,"y":9},{"t":27.88,"r":14.8,"b":17,"g":18,"y":6},{"t":27.96,"r":14,"b":16.3,"g":17.3,"y":4.8},{"t":28.04,"r":13.5,"b":15.8,"g":17,"y":4}
],
"cGray": [
{"t":18.49,"v":1.5},{"t":18.51,"v":0.3},{"t":18.53,"v":1.2},{"t":18.55,"v":0},{"t":18.57,"v":1.0},{"t":18.59,"v":0.2},{"t":18.61,"v":1.3},{"t":18.63,"v":0},{"t":18.65,"v":0.8},{"t":18.67,"v":0},{"t":18.69,"v":1.2},{"t":18.71,"v":0.5},{"t":18.73,"v":2.0},{"t":18.76,"v":1.5},{"t":18.79,"v":4},{"t":18.82,"v":8.4},{"t":18.84,"v":10},{"t":18.86,"v":12.5},{"t":18.88,"v":11},{"t":18.90,"v":14.4},{"t":18.92,"v":13},{"t":18.94,"v":12.3},{"t":18.96,"v":11},{"t":18.98,"v":12.8},{"t":19.00,"v":10.5},{"t":19.02,"v":11.5},{"t":19.04,"v":10},{"t":19.06,"v":12.9},{"t":19.08,"v":10},{"t":19.10,"v":12},{"t":19.12,"v":9},{"t":19.14,"v":11},{"t":19.16,"v":9.5},{"t":19.18,"v":12},{"t":19.20,"v":9},{"t":19.22,"v":11},{"t":19.24,"v":9.3},{"t":19.26,"v":11.5},{"t":19.28,"v":9},{"t":19.31,"v":9.8},{"t":19.33,"v":8.5},{"t":19.35,"v":7.2},{"t":19.37,"v":8},{"t":19.39,"v":6.0},{"t":19.41,"v":5},{"t":19.43,"v":3.3},{"t":19.45,"v":2},{"t":19.47,"v":0},{"t":19.49,"v":0.8},{"t":19.51,"v":1.3},{"t":19.53,"v":3},{"t":19.55,"v":4.5},{"t":19.57,"v":2.5},{"t":19.60,"v":4},{"t":19.62,"v":2},{"t":19.65,"v":3.5},{"t":19.67,"v":2},{"t":19.70,"v":4},{"t":19.72,"v":2.5},{"t":19.74,"v":3.5},{"t":19.76,"v":3},{"t":19.78,"v":5},{"t":19.80,"v":16.4},{"t":19.82,"v":12},{"t":19.84,"v":13.3},{"t":19.86,"v":11},{"t":19.88,"v":12.5},{"t":19.90,"v":10.5},{"t":19.93,"v":13},{"t":19.96,"v":11},{"t":19.99,"v":12.5},{"t":20.02,"v":10.5},{"t":20.05,"v":12},{"t":20.08,"v":11},{"t":20.11,"v":13},{"t":20.14,"v":11.5},{"t":20.17,"v":12.5},{"t":20.20,"v":11},{"t":20.23,"v":13},{"t":20.26,"v":11.5},{"t":20.29,"v":12.5},{"t":20.32,"v":11},{"t":20.35,"v":12},{"t":20.37,"v":10},{"t":20.40,"v":7.2},{"t":20.42,"v":4},{"t":20.44,"v":0},{"t":20.46,"v":5},{"t":20.48,"v":3},{"t":20.50,"v":6},{"t":20.52,"v":3.2},{"t":20.54,"v":5},{"t":20.56,"v":2.5},{"t":20.58,"v":6.5},{"t":20.60,"v":3},{"t":20.62,"v":4.5},{"t":20.64,"v":2},{"t":20.66,"v":0},{"t":20.68,"v":3},{"t":20.70,"v":6.6},{"t":20.72,"v":4.5},{"t":20.74,"v":4},{"t":20.75,"v":null},
{"t":21.48,"v":2},{"t":21.50,"v":2.8},{"t":21.52,"v":3},{"t":21.54,"v":1.8},{"t":21.56,"v":1.5},{"t":21.58,"v":2.5},{"t":21.61,"v":2.5},{"t":21.63,"v":2},{"t":21.65,"v":2.8},{"t":21.67,"v":11.5},{"t":21.69,"v":11.5},{"t":21.70,"v":3},{"t":21.72,"v":4},{"t":21.74,"v":2.5},{"t":21.76,"v":5},{"t":21.78,"v":3},{"t":21.80,"v":4.5},{"t":21.82,"v":2.8},{"t":21.84,"v":4},{"t":21.86,"v":3},{"t":21.87,"v":9.5},{"t":21.89,"v":8.5},{"t":21.91,"v":6},{"t":21.93,"v":7.7},{"t":21.95,"v":9},{"t":21.97,"v":7.8},{"t":21.99,"v":9.2},{"t":22.01,"v":8},{"t":22.03,"v":9},{"t":22.05,"v":7.7},{"t":22.07,"v":8.8},{"t":22.09,"v":8},{"t":22.11,"v":9.2},{"t":22.14,"v":7},{"t":22.16,"v":8.5},{"t":22.18,"v":7.2},{"t":22.20,"v":9},{"t":22.22,"v":7.5},{"t":22.24,"v":8.5},{"t":22.26,"v":7},{"t":22.28,"v":8},{"t":22.30,"v":6.5},{"t":22.32,"v":5.5},{"t":22.34,"v":6.5},{"t":22.36,"v":5.5},{"t":22.38,"v":6},{"t":22.41,"v":5.5},{"t":22.43,"v":10.5},{"t":22.45,"v":7},{"t":22.47,"v":6.5},{"t":22.49,"v":5.5},{"t":22.51,"v":5},{"t":22.53,"v":4},{"t":22.55,"v":3.8},{"t":22.58,"v":3.5},{"t":22.61,"v":3.3},{"t":22.63,"v":3.1},{"t":22.66,"v":2.5},{"t":22.69,"v":2.2},{"t":22.71,"v":2.0},{"t":22.74,"v":3},{"t":22.76,"v":2},{"t":22.79,"v":3.5},{"t":22.81,"v":2.5},{"t":22.84,"v":4},{"t":22.86,"v":3},{"t":22.88,"v":6},{"t":22.90,"v":5},{"t":22.92,"v":6.5},{"t":22.95,"v":4.5},{"t":22.97,"v":7},{"t":22.99,"v":5},{"t":23.01,"v":6.5},{"t":23.04,"v":4.5},{"t":23.06,"v":6},{"t":23.09,"v":4},{"t":23.11,"v":6.5},{"t":23.14,"v":5},{"t":23.16,"v":7},{"t":23.19,"v":5},{"t":23.21,"v":6},{"t":23.24,"v":4.5},{"t":23.26,"v":7.2},{"t":23.29,"v":5},{"t":23.31,"v":6.5},{"t":23.33,"v":5},{"t":23.35,"v":4},{"t":23.37,"v":3.1},{"t":23.39,"v":2},{"t":23.41,"v":1.5},{"t":23.43,"v":2},{"t":23.45,"v":1},{"t":23.47,"v":1.8},{"t":23.49,"v":1.2},{"t":23.51,"v":0.8},{"t":23.53,"v":1.4},{"t":23.55,"v":0.3},{"t":23.57,"v":1.2},{"t":23.59,"v":0.5},{"t":23.61,"v":1.4},{"t":23.63,"v":0.3},{"t":23.65,"v":1.0},{"t":23.67,"v":0.4},{"t":23.69,"v":1.3},{"t":23.71,"v":0.5},{"t":23.73,"v":1.2},{"t":23.75,"v":0.3},{"t":23.77,"v":1.4},{"t":23.79,"v":1},{"t":23.81,"v":2.5},{"t":23.83,"v":1.5},{"t":23.85,"v":3},{"t":23.87,"v":2},{"t":23.89,"v":3},{"t":23.91,"v":4.1},{"t":23.93,"v":3.5},{"t":23.95,"v":4.8},{"t":23.97,"v":3.2},{"t":23.99,"v":4.5},{"t":24.01,"v":3},{"t":24.03,"v":5},{"t":24.05,"v":3.5},{"t":24.07,"v":4.5},{"t":24.09,"v":3},{"t":24.11,"v":4},{"t":24.13,"v":2.5},{"t":24.15,"v":3.8},{"t":24.17,"v":2.2},{"t":24.19,"v":3.5},{"t":24.21,"v":2},{"t":24.23,"v":3.2},{"t":24.25,"v":2.5},{"t":24.27,"v":2.8},{"t":24.29,"v":1.5},{"t":24.31,"v":2.5},{"t":24.33,"v":1.2},{"t":24.35,"v":2.8},{"t":24.38,"v":1.5},{"t":24.40,"v":3},{"t":24.43,"v":1.8},{"t":24.45,"v":2.5},{"t":24.48,"v":1.2},{"t":24.50,"v":2.8},{"t":24.53,"v":1.5},{"t":24.55,"v":2.5},{"t":24.58,"v":1},{"t":24.60,"v":2},{"t":24.62,"v":0.5},{"t":24.64,"v":1.2},{"t":24.66,"v":0.3},{"t":24.68,"v":1},{"t":24.70,"v":0.5},{"t":24.72,"v":1.5},{"t":24.74,"v":2.5},{"t":24.76,"v":1.8},{"t":24.78,"v":2.5},{"t":24.80,"v":3.3},{"t":24.83,"v":2.5},{"t":24.85,"v":3.3},{"t":24.88,"v":2.8},{"t":24.90,"v":3.5},{"t":24.93,"v":2},{"t":24.95,"v":3.8},{"t":24.97,"v":2.5},{"t":24.99,"v":5},{"t":25.01,"v":3},{"t":25.03,"v":3.8},{"t":25.05,"v":2.2},{"t":25.07,"v":3.5},{"t":25.09,"v":3},{"t":25.12,"v":4},{"t":25.14,"v":3.2},{"t":25.17,"v":3.8},{"t":25.20,"v":3},{"t":25.23,"v":4},{"t":25.26,"v":3.3},{"t":25.29,"v":3.8},{"t":25.32,"v":3.5},{"t":25.35,"v":4},{"t":25.38,"v":3.3},{"t":25.41,"v":3.8},{"t":25.42,"v":null},
{"t":25.45,"v":0.8},{"t":25.47,"v":0.4},{"t":25.48,"v":null},{"t":25.50,"v":0.6},{"t":25.52,"v":1.0},{"t":25.53,"v":null},{"t":25.56,"v":0.3},{"t":25.58,"v":0.8},{"t":25.60,"v":0.4},{"t":25.61,"v":null},{"t":25.63,"v":0.5},{"t":25.65,"v":1.0},{"t":25.67,"v":0.3},{"t":25.68,"v":null},{"t":25.70,"v":0.6},{"t":25.72,"v":0.3},{"t":25.74,"v":1.0},{"t":25.76,"v":1.5},{"t":25.78,"v":2.0},{"t":25.80,"v":1.5},{"t":25.82,"v":2.0},{"t":25.84,"v":3.3},{"t":25.86,"v":3},{"t":25.88,"v":4.5},{"t":25.90,"v":3.5},{"t":25.92,"v":6},{"t":25.94,"v":4},{"t":25.96,"v":5.5},{"t":25.98,"v":3.8},{"t":26.00,"v":4.6},{"t":26.03,"v":6.4},{"t":26.05,"v":4.6},{"t":26.08,"v":6},{"t":26.10,"v":5},{"t":26.13,"v":6.4},{"t":26.16,"v":5.5},{"t":26.18,"v":7.9},{"t":26.20,"v":6.5},{"t":26.22,"v":7.9},{"t":26.24,"v":6},{"t":26.27,"v":7},{"t":26.29,"v":5},{"t":26.32,"v":6.5},{"t":26.34,"v":5},{"t":26.37,"v":4},{"t":26.40,"v":3},{"t":26.42,"v":4},{"t":26.45,"v":3},{"t":26.47,"v":1},{"t":26.50,"v":2.5},{"t":26.52,"v":0.5},{"t":26.55,"v":3},{"t":26.57,"v":1.5},{"t":26.60,"v":2.5},{"t":26.62,"v":0.8},{"t":26.64,"v":2},{"t":26.65,"v":null},
{"t":26.69,"v":1},{"t":26.71,"v":3},{"t":26.73,"v":2},{"t":26.75,"v":6},{"t":26.77,"v":5},{"t":26.79,"v":6.5},{"t":26.81,"v":5.5},{"t":26.83,"v":8.4},{"t":26.85,"v":7},{"t":26.87,"v":9},{"t":26.89,"v":7.5},{"t":26.91,"v":8},{"t":26.93,"v":6.5},{"t":26.95,"v":8},{"t":26.97,"v":7},{"t":26.99,"v":8.5},{"t":27.01,"v":5.4},{"t":27.03,"v":7.5},{"t":27.05,"v":6},{"t":27.07,"v":8.2},{"t":27.09,"v":5.5},{"t":27.11,"v":7.5},{"t":27.13,"v":4.9},{"t":27.15,"v":7},{"t":27.17,"v":5.5},{"t":27.19,"v":8.1},{"t":27.21,"v":6},{"t":27.23,"v":7},{"t":27.25,"v":5},{"t":27.27,"v":6.5},{"t":27.29,"v":4.9},{"t":27.31,"v":4},{"t":27.33,"v":3.5},{"t":27.35,"v":4},{"t":27.37,"v":3},{"t":27.39,"v":3.5},{"t":27.41,"v":1},{"t":27.43,"v":2.5},{"t":27.45,"v":0.5},{"t":27.47,"v":3.3},{"t":27.49,"v":1.5},{"t":27.51,"v":2.8},{"t":27.53,"v":0.8},{"t":27.55,"v":2},{"t":27.57,"v":0.5},{"t":27.59,"v":3.5},{"t":27.61,"v":1.5},{"t":27.63,"v":2.5},{"t":27.65,"v":0.8},{"t":27.67,"v":2},{"t":27.69,"v":1},{"t":27.71,"v":2},{"t":27.73,"v":1.2},{"t":27.75,"v":1.8},{"t":27.77,"v":3},{"t":27.80,"v":5.6},{"t":27.82,"v":4.5},{"t":27.84,"v":4.5},{"t":27.86,"v":3},{"t":27.88,"v":3.3},{"t":27.90,"v":2},{"t":27.92,"v":1.4},{"t":27.94,"v":0.8},{"t":27.95,"v":null},{"t":27.97,"v":1.5},{"t":27.99,"v":0.8},{"t":28.01,"v":1.5}
],
"cMod": [
{"t":17.95,"r":8.3,"b":9.7,"g":9.8,"y":9.6},{"t":18.05,"r":7.6,"b":9.3,"g":9.5,"y":9.0},{"t":18.15,"r":7.0,"b":8.9,"g":9.1,"y":8.4},{"t":18.25,"r":6.6,"b":8.6,"g":8.8,"y":8.0},{"t":18.32,"r":6.1,"b":8.2,"g":8.4,"y":7.4},{"t":18.38,"r":5.0,"b":6.5,"g":6.7,"y":6.2},{"t":18.44,"r":3.6,"b":4.4,"g":4.6,"y":4.4},{"t":18.53,"r":3.0,"b":3.2,"g":3.2,"y":3.2},{"t":18.61,"r":2.4,"b":2.4,"g":2.4,"y":2.4},{"t":18.70,"r":2.0,"b":2.0,"g":2.0,"y":2.0},{"t":18.77,"r":1.6,"b":1.7,"g":1.6,"y":1.7},{"t":18.81,"r":4.5,"b":3.5,"g":2.5,"y":3.5},{"t":18.85,"r":8.5,"b":7.2,"g":5.8,"y":6.8},{"t":18.90,"r":10.6,"b":9.5,"g":8.5,"y":9.0},{"t":18.93,"r":10.2,"b":10.3,"g":9.3,"y":9.7},{"t":18.98,"r":9.0,"b":9.8,"g":9.8,"y":10.0},{"t":19.06,"r":8.0,"b":8.6,"g":9.2,"y":9.0},{"t":19.18,"r":5.4,"b":7.2,"g":8.2,"y":7.4},{"t":19.30,"r":4.0,"b":5.9,"g":7.4,"y":6.6},{"t":19.35,"r":3.4,"b":5.3,"g":7.0,"y":6.2},{"t":19.43,"r":2.3,"b":3.1,"g":3.6,"y":3.6},{"t":19.51,"r":3.8,"b":4.0,"g":4.0,"y":4.0},{"t":19.60,"r":4.6,"b":4.6,"g":4.6,"y":4.6},{"t":19.67,"r":3.5,"b":3.5,"g":3.5,"y":3.5},{"t":19.73,"r":2.8,"b":2.8,"g":2.6,"y":2.8},{"t":19.80,"r":13.5,"b":10,"g":8,"y":9},{"t":19.86,"r":18.9,"b":16,"g":14,"y":14},{"t":19.91,"r":17.5,"b":18.0,"g":16,"y":16},{"t":19.94,"r":16,"b":17.5,"g":16.6,"y":16.4},{"t":20.01,"r":13.5,"b":16,"g":15.8,"y":15.2},{"t":20.09,"r":12.8,"b":15.1,"g":15.1,"y":14.5},{"t":20.13,"r":12.3,"b":14.6,"g":14.8,"y":14.2},{"t":20.25,"r":11.2,"b":13.8,"g":13.8,"y":13.3},{"t":20.35,"r":10.5,"b":12.8,"g":12.8,"y":12.4},{"t":20.41,"r":8.4,"b":10.0,"g":10.0,"y":9.5},{"t":20.46,"r":6.2,"b":6.5,"g":6.8,"y":6.5},{"t":20.50,"r":5.5,"b":5.5,"g":5.5,"y":5.5},{"t":20.58,"r":4.9,"b":4.9,"g":4.9,"y":4.9},{"t":20.66,"r":2.8,"b":2.8,"g":2.6,"y":2.8},{"t":20.75,"r":11,"b":9,"g":7,"y":8},{"t":20.81,"r":13.8,"b":12,"g":9.5,"y":10.5},{"t":20.84,"r":12.5,"b":12.7,"g":10.2,"y":11.2},{"t":20.87,"r":11,"b":11.5,"g":10.5,"y":11},{"t":20.99,"r":9.0,"b":10.3,"g":10.3,"y":10.0},{"t":21.08,"r":7.9,"b":9.8,"g":10.0,"y":9.5},{"t":21.27,"r":6.9,"b":8.4,"g":8.7,"y":8.2},{"t":21.36,"r":5.0,"b":6.5,"g":7.0,"y":6.3},{"t":21.40,"r":3.8,"b":5.4,"g":5.5,"y":5.0},{"t":21.44,"r":3.6,"b":4.0,"g":4.4,"y":4.0},{"t":21.48,"r":3.6,"b":3.6,"g":3.6,"y":3.6},{"t":21.56,"r":3.8,"b":3.8,"g":3.8,"y":3.8},{"t":21.67,"r":4.4,"b":3.6,"g":3.6,"y":3.6},{"t":21.69,"r":3.1,"b":3.1,"g":3.1,"y":3.1},{"t":21.79,"r":2.3,"b":2.3,"g":2.3,"y":2.3},{"t":21.85,"r":6.0,"b":3.5,"g":1.9,"y":3.0},{"t":21.87,"r":9.2,"b":6,"g":3,"y":5},{"t":21.95,"r":11.8,"b":10,"g":6,"y":8},{"t":22.00,"r":11.3,"b":10.7,"g":7.5,"y":9.5},{"t":22.04,"r":11.0,"b":10.5,"g":8.2,"y":9.6},{"t":22.22,"r":10.2,"b":10.0,"g":7.9,"y":8.7},{"t":22.34,"r":9.5,"b":9.2,"g":7.4,"y":8.2},{"t":22.40,"r":7.0,"b":7.0,"g":6.0,"y":6.5},{"t":22.47,"r":4.6,"b":4.6,"g":4.6,"y":4.6},{"t":22.59,"r":3.1,"b":3.1,"g":3.1,"y":3.1},{"t":22.71,"r":2.3,"b":2.3,"g":2.3,"y":2.3},{"t":22.84,"r":4.1,"b":3.5,"g":2.6,"y":3.6},{"t":23.00,"r":4.2,"b":3.8,"g":3.0,"y":4.0},{"t":23.29,"r":4.2,"b":3.9,"g":3.2,"y":3.9},{"t":23.35,"r":4.4,"b":4.4,"g":4.4,"y":4.4},{"t":23.41,"r":3.1,"b":3.1,"g":3.1,"y":3.1},{"t":23.49,"r":4.4,"b":3.8,"g":3.8,"y":3.8},{"t":23.57,"r":3.8,"b":3.8,"g":3.8,"y":3.8},{"t":23.66,"r":3.5,"b":3.5,"g":3.5,"y":3.5},{"t":23.72,"r":2.3,"b":2.3,"g":2.3,"y":2.3},{"t":23.84,"r":9.2,"b":6,"g":4.5,"y":8.5},{"t":23.90,"r":11.2,"b":8,"g":6,"y":10.8},{"t":23.93,"r":11.0,"b":9.5,"g":7,"y":11.0},{"t":24.00,"r":10.8,"b":10.5,"g":8,"y":10.2},{"t":24.07,"r":10.5,"b":11.0,"g":9,"y":9.5},{"t":24.11,"r":10.2,"b":10.9,"g":10.1,"y":9.0},{"t":24.19,"r":9.5,"b":10.6,"g":10.2,"y":8.7},{"t":24.27,"r":9.0,"b":10.4,"g":10.2,"y":7.4},{"t":24.35,"r":8.4,"b":9.2,"g":9.0,"y":6.8},{"t":24.40,"r":6.6,"b":7.2,"g":7.0,"y":5.5},{"t":24.44,"r":4.6,"b":4.6,"g":4.6,"y":4.6},{"t":24.52,"r":3.8,"b":3.8,"g":3.8,"y":3.6},{"t":24.56,"r":3.3,"b":3.3,"g":3.3,"y":3.3},{"t":24.64,"r":2.6,"b":2.6,"g":2.6,"y":2.6},{"t":24.72,"r":1.7,"b":1.7,"g":1.7,"y":1.7},{"t":24.80,"r":2.5,"b":2.1,"g":2.1,"y":3.0},{"t":24.85,"r":5.5,"b":3.1,"g":2.3,"y":5.9},{"t":24.92,"r":6.3,"b":4.5,"g":3.2,"y":6.8},{"t":24.99,"r":6.7,"b":5.4,"g":3.8,"y":7.0},{"t":25.17,"r":6.5,"b":5.9,"g":4.9,"y":6.5},{"t":25.34,"r":6.1,"b":6.1,"g":5.4,"y":5.9},{"t":25.42,"r":2.8,"b":2.8,"g":2.8,"y":2.8},{"t":25.54,"r":2.6,"b":2.6,"g":2.6,"y":2.6},{"t":25.63,"r":3.0,"b":3.0,"g":3.0,"y":3.0},{"t":25.71,"r":1.8,"b":1.8,"g":1.8,"y":1.8},{"t":25.79,"r":8.4,"b":5,"g":3.5,"y":6},{"t":25.89,"r":9.5,"b":7.5,"g":5.5,"y":8},{"t":25.95,"r":9.0,"b":7.9,"g":6.2,"y":8.4},{"t":26.08,"r":8.0,"b":7.6,"g":6.8,"y":7.8},{"t":26.24,"r":7.2,"b":7.0,"g":6.7,"y":6.9},{"t":26.32,"r":6.8,"b":6.6,"g":6.4,"y":6.5},{"t":26.41,"r":3.3,"b":3.3,"g":3.3,"y":3.3},{"t":26.49,"r":3.1,"b":3.1,"g":3.1,"y":3.1},{"t":26.57,"r":4.4,"b":4.4,"g":4.4,"y":4.4},{"t":26.65,"r":3.6,"b":3.6,"g":3.6,"y":3.0},{"t":26.67,"r":9.8,"b":6.4,"g":4,"y":2.8},{"t":26.75,"r":8.4,"b":5.4,"g":3.8,"y":2.8},{"t":26.82,"r":9.0,"b":6.0,"g":3.5,"y":6},{"t":26.90,"r":11.8,"b":9.5,"g":4.4,"y":11},{"t":26.93,"r":14.2,"b":10.5,"g":6,"y":13.0},{"t":26.98,"r":14.2,"b":11.8,"g":9.2,"y":12.5},{"t":27.02,"r":14.0,"b":13.8,"g":11,"y":12.0},{"t":27.06,"r":13.5,"b":13.8,"g":12.0,"y":11.3},{"t":27.14,"r":12.5,"b":13.2,"g":12.4,"y":10.9},{"t":27.18,"r":12.0,"b":13.0,"g":12.3,"y":10.5},{"t":27.23,"r":11.5,"b":12.8,"g":12.4,"y":10.0},{"t":27.31,"r":10.8,"b":11.5,"g":12.5,"y":9.3},{"t":27.35,"r":9.5,"b":10.6,"g":11,"y":8.5},{"t":27.40,"r":7.0,"b":7.5,"g":7.5,"y":7.0},{"t":27.47,"r":4.1,"b":4.1,"g":4.1,"y":4.1},{"t":27.60,"r":3.0,"b":3.0,"g":3.0,"y":3.0},{"t":27.72,"r":1.8,"b":1.8,"g":1.8,"y":1.8},{"t":27.80,"r":3.0,"b":2.5,"g":2.0,"y":5.7},{"t":27.88,"r":3.1,"b":2.5,"g":2.0,"y":5.7},{"t":27.95,"r":3.2,"b":2.6,"g":2.1,"y":6.2},{"t":28.04,"r":3.3,"b":2.6,"g":2.1,"y":6.9}
]
},
"vconcat": [
{
  "width": 820, "height": 269,
  "layer": [
    {"data": {"name": "aRed"},
     "mark": {"type": "line", "strokeWidth": 2.5, "interpolate": "step-after", "clip": true, "invalid": "break-paths-show-domains"},
     "encoding": {
       "x": {"field": "t", "type": "quantitative", "scale": {"domain": [17.951, 28.043], "nice": false, "zero": false},
             "axis": {"orient": "bottom", "values": [18,19,20,21,22,23,24,25,26,27,28], "labels": false, "grid": true, "gridDash": [1,2], "gridColor": "#999999", "gridWidth": 1, "tickSize": {"condition": {"test": "datum.value % 2 == 1", "value": 11}, "value": 5}, "title": null, "minExtent": 14}},
       "y": {"field": "v", "type": "quantitative", "scale": {"domain": [-0.77, 15.2], "nice": false, "zero": false},
             "axis": {"orient": "left", "values": [0,2,4,6,8,10,12,14], "labelExpr": "datum.value % 4 == 0 ? datum.label : ''", "labelFontSize": 22, "labelPadding": 10, "labelOverlap": false, "tickSize": {"condition": {"test": "datum.value % 4 == 0", "value": 11}, "value": 5}, "title": "NO₃, ppt", "titleFontSize": 24, "titlePadding": 12}},
       "color": {"datum": "Measured NO₃", "type": "nominal",
                 "scale": {"domain": ["Measured NO₃", "Calculated NO₃ from N₂O₅"], "range": ["#ff0000", "#0000ff"]},
                 "legend": {"orient": "none", "legendX": 259, "legendY": 9, "title": null, "padding": 10, "strokeColor": "black", "fillColor": "white", "labelFontSize": 23, "labelColor": "black", "labelOffset": 19, "labelLimit": 0, "symbolType": "M-5,0H5", "symbolSize": 65, "symbolOffset": 19, "symbolStrokeWidth": 3, "rowPadding": 12}}
     }},
    {"data": {"name": "aBlue"},
     "mark": {"type": "line", "strokeWidth": 3, "clip": true, "invalid": "break-paths-show-domains"},
     "encoding": {
       "x": {"field": "t", "type": "quantitative", "scale": {"domain": [17.951, 28.043], "nice": false, "zero": false}, "axis": null},
       "y": {"field": "v", "type": "quantitative", "scale": {"domain": [-0.77, 15.2], "nice": false, "zero": false}, "axis": null},
       "color": {"datum": "Calculated NO₃ from N₂O₅", "type": "nominal"}
     }},
    {"data": {"name": "aBlue"},
     "mark": {"type": "point", "opacity": 0},
     "encoding": {
       "x": {"field": "t", "type": "quantitative", "scale": {"domain": [17.951, 28.043], "nice": false, "zero": false},
             "axis": {"orient": "top", "values": [18,19,20,21,22,23,24,25,26,27,28], "labels": false, "tickSize": {"condition": {"test": "datum.value % 2 == 1", "value": 11}, "value": 5}, "title": null}},
       "y": {"field": "v", "type": "quantitative", "scale": {"domain": [-0.77, 15.2], "nice": false, "zero": false},
             "axis": {"orient": "right", "values": [0,2,4,6,8,10,12,14], "labels": false, "tickSize": 5, "title": null}}
     }},
    {"data": {"values": [{}]},
     "mark": {"type": "rect", "fill": "white", "stroke": "black", "strokeWidth": 1.5},
     "encoding": {
       "x": {"datum": 18.296, "type": "quantitative", "scale": {"domain": [17.951, 28.043], "nice": false, "zero": false}, "axis": null},
       "x2": {"datum": 18.616},
       "y": {"datum": 14.84, "type": "quantitative", "scale": {"domain": [-0.77, 15.2], "nice": false, "zero": false}, "axis": null},
       "y2": {"datum": 12.46}
     }},
    {"data": {"values": [{}]},
     "mark": {"type": "text", "fontSize": 21, "color": "black", "baseline": "middle", "align": "center"},
     "encoding": {
       "x": {"datum": 18.456, "type": "quantitative", "scale": {"domain": [17.951, 28.043], "nice": false, "zero": false}, "axis": null},
       "y": {"datum": 13.65, "type": "quantitative", "scale": {"domain": [-0.77, 15.2], "nice": false, "zero": false}, "axis": null},
       "text": {"value": "A"}
     }}
  ],
  "resolve": {"axis": {"x": "independent", "y": "independent"}}
},
{
  "width": 820, "height": 268,
  "layer": [
    {"data": {"name": "bGray"},
     "mark": {"type": "line", "strokeWidth": 5, "interpolate": "step-after", "clip": true, "invalid": "break-paths-show-domains"},
     "encoding": {
       "x": {"field": "t", "type": "quantitative", "scale": {"domain": [17.951, 28.043], "nice": false, "zero": false},
             "axis": {"orient": "bottom", "values": [18,19,20,21,22,23,24,25,26,27,28], "labels": false, "grid": true, "gridDash": [1,2], "gridColor": "#999999", "gridWidth": 1, "tickSize": {"condition": {"test": "datum.value % 2 == 1", "value": 11}, "value": 5}, "title": null}},
       "y": {"field": "v", "type": "quantitative", "scale": {"domain": [-1.3, 101.4], "nice": false, "zero": false},
             "axis": {"orient": "left", "values": [0,20,40,60,80,100], "labelFontSize": 19, "labelPadding": 10, "labelOverlap": false, "tickSize": 11, "title": "Phenol, ppt", "titleFontSize": 21, "titlePadding": 22}},
       "color": {"datum": "Measured", "type": "nominal",
                 "scale": {"domain": ["Measured", "Base", "NO₃*2", "NO₃*0.5"], "range": ["#454545", "#1050ff", "#ff0000", "#22ee22"]},
                 "legend": {"orient": "none", "legendX": 344, "legendY": -15, "columns": 2, "direction": "horizontal", "gridAlign": "each", "columnPadding": 4, "rowPadding": 12, "padding": 10, "strokeColor": "black", "fillColor": "white", "labelFontSize": 23, "labelColor": "black", "labelOffset": 19, "labelLimit": 0, "symbolType": "M-5,0H5", "symbolSize": 65, "symbolOffset": 19, "symbolStrokeWidth": 3,
                            "title": "Calculated NO₃ from N₂O₅", "titleOrient": "bottom", "titleAnchor": "start", "titleAlign": "left", "titleFontSize": 23, "titleFontWeight": "normal", "titleColor": "black", "titlePadding": 12, "titleLimit": 0,
                            "encode": {"symbols": {"update": {"strokeWidth": {"signal": "datum.value == 'Measured' || datum.value == 'Base' ? 5 : 3"}}}, "title": {"update": {"dx": {"value": 63}}}}}}
     }},
    {"data": {"name": "bMod"},
     "mark": {"type": "line", "strokeWidth": 5, "interpolate": "monotone", "clip": true},
     "encoding": {
       "x": {"field": "t", "type": "quantitative", "scale": {"domain": [17.951, 28.043], "nice": false, "zero": false}, "axis": null},
       "y": {"field": "b", "type": "quantitative", "scale": {"domain": [-1.3, 101.4], "nice": false, "zero": false}, "axis": null},
       "color": {"datum": "Base", "type": "nominal"}
     }},
    {"data": {"name": "bMod"},
     "mark": {"type": "line", "strokeWidth": 3, "interpolate": "monotone", "clip": true},
     "encoding": {
       "x": {"field": "t", "type": "quantitative", "scale": {"domain": [17.951, 28.043], "nice": false, "zero": false}, "axis": null},
       "y": {"field": "r", "type": "quantitative", "scale": {"domain": [-1.3, 101.4], "nice": false, "zero": false}, "axis": null},
       "color": {"datum": "NO₃*2", "type": "nominal"}
     }},
    {"data": {"name": "bMod"},
     "mark": {"type": "line", "strokeWidth": 3, "interpolate": "monotone", "clip": true},
     "encoding": {
       "x": {"field": "t", "type": "quantitative", "scale": {"domain": [17.951, 28.043], "nice": false, "zero": false}, "axis": null},
       "y": {"field": "g", "type": "quantitative", "scale": {"domain": [-1.3, 101.4], "nice": false, "zero": false}, "axis": null},
       "color": {"datum": "NO₃*0.5", "type": "nominal"}
     }},
    {"data": {"name": "bMod"},
     "mark": {"type": "line", "strokeWidth": 3.5, "interpolate": "monotone", "clip": true},
     "encoding": {
       "x": {"field": "t", "type": "quantitative", "scale": {"domain": [17.951, 28.043], "nice": false, "zero": false}, "axis": null},
       "y": {"field": "y", "type": "quantitative", "scale": {"domain": [-1.3, 101.4], "nice": false, "zero": false}, "axis": null},
       "stroke": {"datum": "Calculated NO₃ from N₂O₅", "type": "nominal",
                  "scale": {"domain": ["Calculated NO₃ from N₂O₅"], "range": ["#c8c400"]},
                  "legend": {"orient": "none", "legendX": 354, "legendY": 63, "title": null, "padding": 0, "labelExpr": "''", "labelFontSize": 23, "labelOffset": 19, "symbolType": "M-5,0H5", "symbolSize": 65, "symbolOffset": 19, "symbolStrokeWidth": 3}}
     }},
    {"data": {"name": "bMod"},
     "mark": {"type": "point", "opacity": 0},
     "encoding": {
       "x": {"field": "t", "type": "quantitative", "scale": {"domain": [17.951, 28.043], "nice": false, "zero": false},
             "axis": {"orient": "top", "values": [18,19,20,21,22,23,24,25,26,27,28], "labels": false, "tickSize": {"condition": {"test": "datum.value % 2 == 1", "value": 11}, "value": 5}, "title": null}},
       "y": {"field": "b", "type": "quantitative", "scale": {"domain": [-1.3, 101.4], "nice": false, "zero": false},
             "axis": {"orient": "right", "values": [0,20,40,60,80,100], "labels": false, "tickSize": 5, "title": null}}
     }},
    {"data": {"values": [{}]},
     "mark": {"type": "rect", "fill": "white", "stroke": "black", "strokeWidth": 1.5},
     "encoding": {
       "x": {"datum": 18.246, "type": "quantitative", "scale": {"domain": [17.951, 28.043], "nice": false, "zero": false}, "axis": null},
       "x2": {"datum": 18.542},
       "y": {"datum": 101.0, "type": "quantitative", "scale": {"domain": [-1.3, 101.4], "nice": false, "zero": false}, "axis": null},
       "y2": {"datum": 85.3}
     }},
    {"data": {"values": [{}]},
     "mark": {"type": "text", "fontSize": 21, "color": "black", "baseline": "middle", "align": "center"},
     "encoding": {
       "x": {"datum": 18.394, "type": "quantitative", "scale": {"domain": [17.951, 28.043], "nice": false, "zero": false}, "axis": null},
       "y": {"datum": 93.2, "type": "quantitative", "scale": {"domain": [-1.3, 101.4], "nice": false, "zero": false}, "axis": null},
       "text": {"value": "B"}
     }}
  ],
  "resolve": {"axis": {"x": "independent", "y": "independent"}}
},
{
  "width": 820, "height": 266,
  "layer": [
    {"data": {"name": "cGray"},
     "mark": {"type": "line", "strokeWidth": 5, "interpolate": "step-after", "clip": true, "invalid": "break-paths-show-domains"},
     "encoding": {
       "x": {"field": "t", "type": "quantitative", "scale": {"domain": [17.951, 28.043], "nice": false, "zero": false},
             "axis": {"orient": "bottom", "values": [18,19,20,21,22,23,24,25,26,27,28], "labelExpr": "datum.value % 2 == 1 ? '1/' + datum.value : ''", "labelFontSize": 23, "labelPadding": 5, "labelFlush": false, "labelOverlap": false, "grid": true, "gridDash": [1,2], "gridColor": "#999999", "gridWidth": 1, "tickSize": {"condition": {"test": "datum.value % 2 == 1", "value": 11}, "value": 5}, "title": null}},
       "y": {"field": "v", "type": "quantitative", "scale": {"domain": [-0.23, 20.2], "nice": false, "zero": false},
             "axis": {"orient": "left", "values": [0,5,10,15,20], "labelFontSize": 19, "labelPadding": 10, "labelOverlap": false, "tickSize": 11, "title": "Nitrophenol, ppt", "titleFontSize": 21, "titlePadding": 33}},
       "color": {"datum": "Measured", "type": "nominal",
                 "scale": {"domain": ["Measured", "Base", "NO₃*2", "NO₃*0.5", "Calculated NO₃ from N₂O₅"], "range": ["#454545", "#1050ff", "#ff0000", "#22ee22", "#c8c400"]},
                 "legend": null}
     }},
    {"data": {"name": "cMod"},
     "mark": {"type": "line", "strokeWidth": 5, "interpolate": "monotone", "clip": true},
     "encoding": {
       "x": {"field": "t", "type": "quantitative", "scale": {"domain": [17.951, 28.043], "nice": false, "zero": false}, "axis": null},
       "y": {"field": "b", "type": "quantitative", "scale": {"domain": [-0.23, 20.2], "nice": false, "zero": false}, "axis": null},
       "color": {"datum": "Base", "type": "nominal"}
     }},
    {"data": {"name": "cMod"},
     "mark": {"type": "line", "strokeWidth": 3, "interpolate": "monotone", "clip": true},
     "encoding": {
       "x": {"field": "t", "type": "quantitative", "scale": {"domain": [17.951, 28.043], "nice": false, "zero": false}, "axis": null},
       "y": {"field": "g", "type": "quantitative", "scale": {"domain": [-0.23, 20.2], "nice": false, "zero": false}, "axis": null},
       "color": {"datum": "NO₃*0.5", "type": "nominal"}
     }},
    {"data": {"name": "cMod"},
     "mark": {"type": "line", "strokeWidth": 3.5, "interpolate": "monotone", "clip": true},
     "encoding": {
       "x": {"field": "t", "type": "quantitative", "scale": {"domain": [17.951, 28.043], "nice": false, "zero": false}, "axis": null},
       "y": {"field": "y", "type": "quantitative", "scale": {"domain": [-0.23, 20.2], "nice": false, "zero": false}, "axis": null},
       "color": {"datum": "Calculated NO₃ from N₂O₅", "type": "nominal"}
     }},
    {"data": {"name": "cMod"},
     "mark": {"type": "line", "strokeWidth": 3, "interpolate": "monotone", "clip": true},
     "encoding": {
       "x": {"field": "t", "type": "quantitative", "scale": {"domain": [17.951, 28.043], "nice": false, "zero": false}, "axis": null},
       "y": {"field": "r", "type": "quantitative", "scale": {"domain": [-0.23, 20.2], "nice": false, "zero": false}, "axis": null},
       "color": {"datum": "NO₃*2", "type": "nominal"}
     }},
    {"data": {"name": "cMod"},
     "mark": {"type": "point", "opacity": 0},
     "encoding": {
       "x": {"field": "t", "type": "quantitative", "scale": {"domain": [17.951, 28.043], "nice": false, "zero": false},
             "axis": {"orient": "top", "values": [18,19,20,21,22,23,24,25,26,27,28], "labels": false, "tickSize": {"condition": {"test": "datum.value % 2 == 1", "value": 11}, "value": 5}, "title": null}},
       "y": {"field": "b", "type": "quantitative", "scale": {"domain": [-0.23, 20.2], "nice": false, "zero": false},
             "axis": {"orient": "right", "values": [0,5,10,15,20], "labels": false, "tickSize": 5, "title": null}}
     }},
    {"data": {"values": [{}]},
     "mark": {"type": "rect", "fill": "white", "stroke": "black", "strokeWidth": 1.5},
     "encoding": {
       "x": {"datum": 18.296, "type": "quantitative", "scale": {"domain": [17.951, 28.043], "nice": false, "zero": false}, "axis": null},
       "x2": {"datum": 18.591},
       "y": {"datum": 19.79, "type": "quantitative", "scale": {"domain": [-0.23, 20.2], "nice": false, "zero": false}, "axis": null},
       "y2": {"datum": 16.64}
     }},
    {"data": {"values": [{}]},
     "mark": {"type": "text", "fontSize": 21, "color": "black", "baseline": "middle", "align": "center"},
     "encoding": {
       "x": {"datum": 18.44, "type": "quantitative", "scale": {"domain": [17.951, 28.043], "nice": false, "zero": false}, "axis": null},
       "y": {"datum": 18.2, "type": "quantitative", "scale": {"domain": [-0.23, 20.2], "nice": false, "zero": false}, "axis": null},
       "text": {"value": "C"}
     }}
  ],
  "resolve": {"axis": {"x": "independent", "y": "independent"}}
}
]
}
